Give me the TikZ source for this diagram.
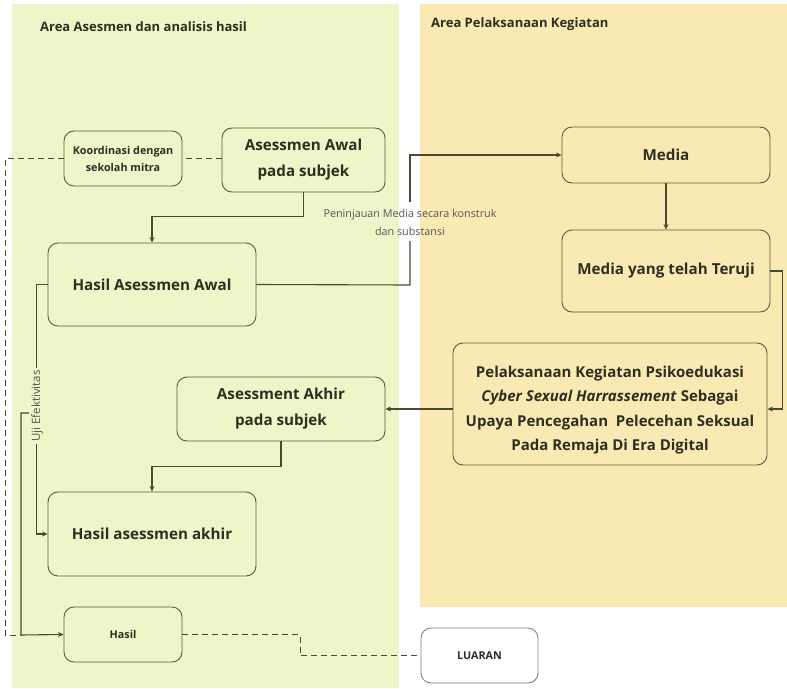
\documentclass[tikz,border=0pt]{standalone}
\usepackage{fontspec}
\setmainfont{Open Sans}
\usetikzlibrary{arrows.meta,calc}
\definecolor{gbg}{HTML}{EEF5C8}
\definecolor{obg}{HTML}{F9E9B3}
\definecolor{bord}{HTML}{5B5B3C}
\definecolor{txt}{HTML}{2E2E22}
\definecolor{lbl}{HTML}{555555}
\definecolor{lnk}{HTML}{4A4A30}
\begin{document}
\begin{tikzpicture}[x=1pt,y=-1pt,
  box/.style={draw=bord, line width=0.9pt, rounded corners=10pt, align=center, text=txt, inner sep=2pt},
  big/.style={font=\bfseries\fontsize{15.2}{26}\selectfont},
  mid/.style={font=\bfseries\fontsize{15}{24.5}\selectfont},
  small/.style={font=\bfseries\fontsize{10.8}{17}\selectfont},
  ttl/.style={font=\bfseries\fontsize{13}{15}\selectfont, text=txt, anchor=west, inner sep=0pt},
  conn/.style={draw=lnk, line width=1.1pt},
  arr/.style={conn, -{Stealth[length=5.5pt,width=5pt]}},
  dsh/.style={draw=lnk, line width=0.9pt, dash pattern=on 6pt off 4pt},
  note/.style={font=\fontsize{10.8}{18}\selectfont, text=lbl, align=center, inner sep=1pt}
]
\useasboundingbox (0,0) rectangle (787,688);
\fill[gbg] (12,4) rectangle (399,688);
\fill[obg] (420,4) rectangle (787,607);

\node[ttl] (t1) at (40,27) {Area Asesmen dan analisis hasil};
\node[ttl] (t2) at (431,24) {Area Pelaksanaan Kegiatan};

\node[box, small, minimum width=118pt, minimum height=55pt] (koord) at (123,158.5) {Koordinasi dengan\\sekolah mitra};
\node[box, big, minimum width=163pt, minimum height=64pt] (awal) at (303.5,160) {Asessmen Awal\\pada subjek};
\node[box, big, minimum width=208pt, minimum height=83pt] (hawal) at (152,284.5) {Hasil Asessmen Awal};
\node[box, big, minimum width=208pt, minimum height=56pt] (media) at (666,155) {Media};
\node[box, big, minimum width=208pt, minimum height=82pt] (teruji) at (666,271) {Media yang telah Teruji};
\node[box, minimum width=314pt, minimum height=122pt] (pel) at (610,404) {};
\node[mid, align=center, text=txt, inner sep=0pt] (peltxt) at (610,410) {Pelaksanaan Kegiatan Psikoedukasi\\\textit{Cyber Sexual Harrassement} Sebagai\\Upaya Pencegahan\ \ Pelecehan Seksual\\Pada Remaja Di Era Digital};
\node[box, big, minimum width=208pt, minimum height=64pt] (akhir) at (281,409) {Asessment Akhir\\pada subjek};
\node[box, big, minimum width=208pt, minimum height=84pt] (hakhir) at (152,534) {Hasil asessmen akhir};
\node[box, small, minimum width=118pt, minimum height=55pt] (hasil) at (123,634.5) {Hasil};
\node[box, small, draw=gray, fill=white, minimum width=117pt, minimum height=55pt] (luaran) at (479.5,655.5) {LUARAN};

% dashed coordination line
\coordinate (dl) at (5,635);
\coordinate (dj) at (21,635);
\draw[dsh] (awal.west |- koord.east) -- (koord.east);
\draw[dsh] (koord.west) -| (dl) -- (dj);

% awal -> hasil awal
\draw[arr] (awal.south) -- ++(0,24) -| (hawal.north);

% hasil awal -> media with label
\coordinate (m1) at (410,285);
\coordinate (m2) at (410,241);
\coordinate (m3) at (410,202);
\node[note] (pen) at (410,222) {Peninjauan Media secara konstruk\\dan substansi};
\draw[conn] (hawal.east) -- (m1) -- (m2);
\draw[arr] (m3) |- (media.west);

% media -> teruji
\draw[arr] (media.south) -- (teruji.north);

% teruji -> pelaksanaan
\coordinate (pe) at ($(pel.east)+(0,5)$);
\draw[arr] (teruji.east) -- ++(12,0) |- (pe);

% pelaksanaan -> akhir
\draw[arr] (pe -| pel.west) -- (pe -| akhir.east);

% akhir -> hasil akhir
\draw[arr] (akhir.south) -- ++(0,25) -| (hakhir.north);

% uji efektivitas
\draw[arr] (hawal.west) -- ++(-11,0) |- (hakhir.west);
\node[rotate=90, fill=gbg, inner sep=2pt, font=\fontsize{11.5}{13}\selectfont, text=lbl] (uji) at (37,406) {Uji Efektivitas};
\draw[arr] ($(uji.north)+(0,7)$) -| (dj) -- (hasil.west);

% hasil -> luaran
\draw[dsh] (hasil.east) -- ++(118,0) |- (luaran.west);
\end{tikzpicture}
\end{document}
